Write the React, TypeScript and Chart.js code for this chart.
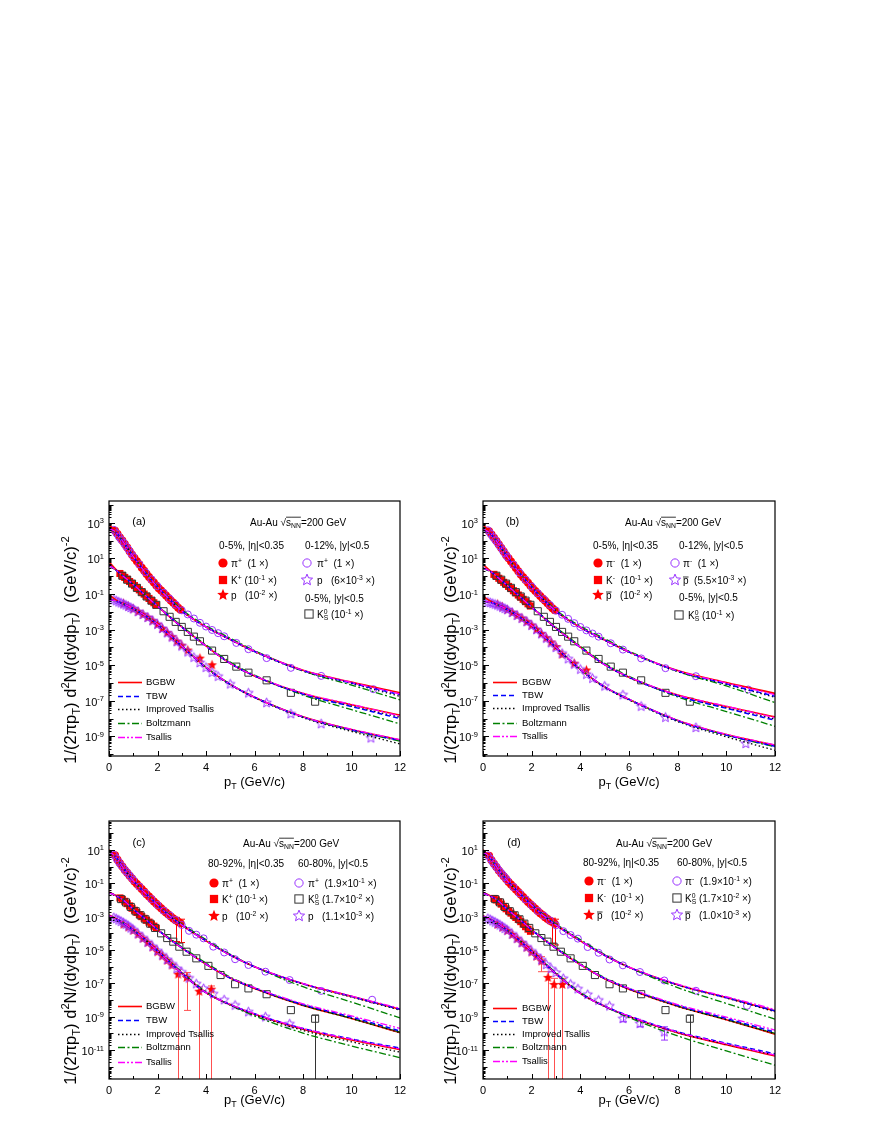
import React, { useEffect, useRef } from 'react';
import { Chart, registerables } from 'chart.js';
Chart.register(...registerables);

const FONT = "'Liberation Sans', Arial, Helvetica, sans-serif";
const RED = '#ff0000';
const PURPLE = '#9933ff';
const GREY = '#333333';

// ---------------- shared x grids ----------------
const fitX = [0, 0.3, 0.6, 1, 1.5, 2, 2.5, 3, 4, 5, 6, 8, 10, 12];
const xTickVals = [0, 2, 4, 6, 8, 10, 12];
const yTickExpAB = [3, 1, -1, -3, -5, -7, -9];
const yTickExpCD = [1, -1, -3, -5, -7, -9, -11];

const phenixPiX = [0.25, 0.35, 0.45, 0.55, 0.65, 0.75, 0.85, 0.95, 1.05, 1.15, 1.25, 1.35, 1.45, 1.55, 1.65, 1.75, 1.85, 1.95, 2.05, 2.15, 2.25, 2.35, 2.45, 2.55, 2.65, 2.75, 2.85, 2.95];
const phenixKX = [0.45, 0.55, 0.65, 0.75, 0.85, 0.95, 1.05, 1.15, 1.25, 1.35, 1.45, 1.55, 1.65, 1.75, 1.85, 1.95];
const abStarPiX = [0.2, 0.3, 0.4, 0.5, 0.6, 0.7, 0.8, 0.9, 1.0, 1.25, 1.5, 1.75, 2.0, 2.25, 2.5, 2.75, 3.0, 3.25, 3.5, 3.75, 4.0, 4.25, 4.5, 4.75, 5.25, 5.75, 6.5, 7.5, 8.75, 10.9];
const abK0sX = [0.55, 0.75, 0.95, 1.15, 1.35, 1.55, 1.75, 1.95, 2.25, 2.5, 2.75, 3.0, 3.25, 3.5, 3.75, 4.25, 4.75, 5.25, 5.75, 6.5, 7.5, 8.5];
const abPhenixPX = [0.6, 0.8, 1.0, 1.2, 1.4, 1.6, 1.8, 2.0, 2.2, 2.4, 2.6, 2.8, 3.0, 3.25, 3.75, 4.25];
const abStarPX = [0.2, 0.3, 0.4, 0.5, 0.6, 0.7, 0.8, 0.9, 1.0, 1.2, 1.4, 1.6, 1.8, 2.0, 2.2, 2.4, 2.6, 2.8, 3.0, 3.25, 3.5, 3.75, 4.0, 4.25, 4.5, 5.0, 5.75, 6.5, 7.5, 8.75, 10.8];
const cdStarPiX = [0.2, 0.3, 0.4, 0.5, 0.6, 0.7, 0.8, 0.9, 1.0, 1.25, 1.5, 1.75, 2.0, 2.25, 2.5, 2.75, 3.0, 3.3, 3.6, 3.9, 4.3, 4.75, 5.2, 5.75, 6.45, 7.45, 8.75, 10.85];
const cdK0sX = [0.5, 0.7, 0.9, 1.1, 1.3, 1.5, 1.7, 1.9, 2.15, 2.4, 2.65, 2.9, 3.2, 3.6, 4.1, 4.6, 5.2, 5.75, 6.5, 7.5, 8.5];
const cPhenixPX = [0.6, 0.8, 1.0, 1.2, 1.4, 1.6, 1.8, 2.0, 2.2, 2.4, 2.6, 2.85, 3.2, 3.72, 4.22];
const dPhenixPX = [0.6, 0.8, 1.0, 1.2, 1.4, 1.6, 1.8, 2.0, 2.2, 2.4, 2.67, 2.92, 3.26];
const cdStarPX = [0.2, 0.3, 0.4, 0.5, 0.6, 0.7, 0.8, 0.9, 1.0, 1.2, 1.4, 1.6, 1.8, 2.0, 2.2, 2.4, 2.6, 2.8, 3.0, 3.3, 3.6, 3.9, 4.3, 4.75, 5.2, 5.75, 6.45, 7.45];

// ---------------- panel (a) ----------------
const aPiBGBW = [7.9e2, 2.8e2, 79, 12.6, 1.58, 2.5e-1, 5.0e-2, 1.12e-2, 1.41e-3, 2.8e-4, 6.0e-5, 5.2e-6, 1.12e-6, 2.8e-7];
const aPiTBW = [5.0e2, 2.7e2, 79, 12.6, 1.58, 2.5e-1, 5.0e-2, 1.12e-2, 1.41e-3, 2.8e-4, 5.9e-5, 5.0e-6, 1.0e-6, 2.2e-7];
const aPiImpT = [4.8e2, 2.7e2, 79, 12.6, 1.58, 2.5e-1, 5.0e-2, 1.12e-2, 1.38e-3, 2.7e-4, 5.6e-5, 4.7e-6, 9.3e-7, 1.78e-7];
const aPiBoltz = [4.8e2, 2.6e2, 79, 13.2, 1.66, 2.7e-1, 5.6e-2, 1.32e-2, 1.66e-3, 3.3e-4, 6.6e-5, 4.7e-6, 7.6e-7, 1.12e-7];
const aPiTsallis = [5.0e2, 2.75e2, 79, 12.6, 1.58, 2.5e-1, 5.0e-2, 1.12e-2, 1.41e-3, 2.8e-4, 6.0e-5, 5.2e-6, 1.07e-6, 2.4e-7];
const aKBGBW = [6.3, 2.24, 0.95, 0.34, 8.3e-2, 2.1e-2, 5.2e-3, 1.41e-3, 1.2e-4, 1.26e-5, 2.5e-6, 2.6e-7, 6.0e-8, 1.58e-8];
const aKTBW = [4.0, 2.14, 0.95, 0.34, 8.3e-2, 2.1e-2, 5.2e-3, 1.38e-3, 1.17e-4, 1.26e-5, 2.5e-6, 2.4e-7, 4.8e-8, 1.0e-8];
const aKImpT = [3.8, 2.1, 0.95, 0.34, 8.3e-2, 2.1e-2, 5.2e-3, 1.38e-3, 1.17e-4, 1.26e-5, 2.45e-6, 2.4e-7, 5.0e-8, 1.2e-8];
const aKBoltz = [3.8, 2.1, 0.95, 0.35, 8.7e-2, 2.24e-2, 5.8e-3, 1.58e-3, 1.38e-4, 1.5e-5, 2.8e-6, 2.1e-7, 3.2e-8, 5.0e-9];
const aKTsallis = [4.0, 2.14, 0.95, 0.34, 8.3e-2, 2.1e-2, 5.2e-3, 1.41e-3, 1.2e-4, 1.26e-5, 2.6e-6, 2.7e-7, 6.3e-8, 1.41e-8];
const aPBGBW = [8.9e-2, 4.5e-2, 2.8e-2, 1.51e-2, 6.0e-3, 2.0e-3, 5.0e-4, 1.2e-4, 7.6e-6, 8.3e-7, 1.58e-7, 1.26e-8, 2.4e-9, 6.3e-10];
const aPTBW = [5.0e-2, 4.0e-2, 2.75e-2, 1.51e-2, 6.0e-3, 2.0e-3, 5.0e-4, 1.17e-4, 7.4e-6, 8.3e-7, 1.58e-7, 1.23e-8, 2.3e-9, 6.0e-10];
const aPImpT = [4.8e-2, 3.9e-2, 2.7e-2, 1.48e-2, 5.9e-3, 1.9e-3, 4.8e-4, 1.12e-4, 7.1e-6, 7.9e-7, 1.5e-7, 1.12e-8, 1.9e-9, 3.8e-10];
const aPBoltz = [5.0e-2, 4.0e-2, 2.75e-2, 1.51e-2, 6.0e-3, 2.0e-3, 5.0e-4, 1.2e-4, 7.6e-6, 8.7e-7, 1.62e-7, 1.23e-8, 2.24e-9, 5.4e-10];
const aPTsallis = [5.0e-2, 4.0e-2, 2.75e-2, 1.51e-2, 6.0e-3, 2.0e-3, 5.0e-4, 1.2e-4, 7.6e-6, 8.5e-7, 1.62e-7, 1.26e-8, 2.5e-9, 6.6e-10];
const aPhenixPiY = [3.5e2, 2.3e2, 1.5e2, 1.0e2, 63, 40, 25, 16, 10.5, 6.9, 4.6, 3.0, 2.0, 1.3, 0.91, 0.63, 0.44, 0.30, 0.21, 0.155, 0.112, 0.081, 0.059, 0.043, 0.032, 0.023, 0.017, 0.013];
const aStarPiY = [4.0e2, 2.6e2, 1.66e2, 1.12e2, 76, 48, 32, 20, 12.6, 4.6, 1.66, 0.66, 0.27, 0.117, 0.054, 0.025, 0.012, 7.1e-3, 4.2e-3, 2.4e-3, 1.48e-3, 9.5e-4, 6.3e-4, 4.2e-4, 1.78e-4, 7.9e-5, 2.5e-5, 7.1e-6, 2.5e-6, 4.5e-7];
const aPhenixKY = [1.41, 1.1, 0.85, 0.66, 0.5, 0.39, 0.295, 0.224, 0.17, 0.129, 0.098, 0.074, 0.056, 0.042, 0.032, 0.024];
const abK0sY = [1.05, 0.63, 0.38, 0.22, 0.126, 0.072, 0.042, 0.0245, 0.0107, 5.2e-3, 2.7e-3, 1.41e-3, 7.4e-4, 4.0e-4, 2.2e-4, 6.6e-5, 2.24e-5, 8.3e-6, 3.8e-6, 1.41e-6, 2.8e-7, 8.9e-8];
const aPhenixPY = [3.0e-2, 2.1e-2, 1.48e-2, 1.05e-2, 7.2e-3, 4.9e-3, 3.16e-3, 2.0e-3, 1.17e-3, 6.8e-4, 4.0e-4, 2.24e-4, 1.32e-4, 7.1e-5, 2.5e-5, 1.05e-5];
const aStarPY = [4.8e-2, 4.2e-2, 3.6e-2, 3.16e-2, 2.75e-2, 2.4e-2, 2.0e-2, 1.74e-2, 1.48e-2, 1.02e-2, 7.1e-3, 4.8e-3, 3.16e-3, 2.0e-3, 1.15e-3, 6.6e-4, 3.8e-4, 2.1e-4, 1.2e-4, 5.6e-5, 2.8e-5, 1.41e-5, 7.6e-6, 4.0e-6, 2.4e-6, 8.9e-7, 2.8e-7, 7.9e-8, 1.9e-8, 5.2e-9, 8.3e-10];

// ---------------- panel (b) ----------------
const bPiBGBW = [7.9e2, 2.7e2, 76, 12.0, 1.51, 2.4e-1, 4.7e-2, 1.05e-2, 1.32e-3, 2.6e-4, 5.6e-5, 5.0e-6, 1.05e-6, 2.6e-7];
const bPiTBW = [4.2e2, 2.5e2, 76, 12.0, 1.51, 2.4e-1, 4.7e-2, 1.05e-2, 1.32e-3, 2.6e-4, 5.5e-5, 4.7e-6, 8.9e-7, 1.78e-7];
const bPiImpT = [4.0e2, 2.5e2, 76, 12.0, 1.51, 2.4e-1, 4.7e-2, 1.05e-2, 1.29e-3, 2.5e-4, 5.2e-5, 4.4e-6, 8.3e-7, 1.58e-7];
const bPiBoltz = [4.0e2, 2.45e2, 76, 12.6, 1.58, 2.6e-1, 5.2e-2, 1.23e-2, 1.55e-3, 3.1e-4, 6.2e-5, 4.4e-6, 6.8e-7, 7.9e-8];
const bPiTsallis = [4.2e2, 2.6e2, 76, 12.0, 1.51, 2.4e-1, 4.7e-2, 1.05e-2, 1.32e-3, 2.6e-4, 5.6e-5, 4.9e-6, 1.0e-6, 2.24e-7];
const bKBGBW = [4.5, 2.0, 0.87, 0.3, 7.4e-2, 1.82e-2, 4.6e-3, 1.2e-3, 1.02e-4, 1.07e-5, 2.1e-6, 2.1e-7, 4.8e-8, 1.26e-8];
const bKTBW = [2.9, 1.86, 0.87, 0.3, 7.4e-2, 1.82e-2, 4.6e-3, 1.17e-3, 1.0e-4, 1.07e-5, 2.1e-6, 1.9e-7, 3.8e-8, 8.1e-9];
const bKImpT = [2.75, 1.82, 0.87, 0.3, 7.4e-2, 1.82e-2, 4.6e-3, 1.17e-3, 1.0e-4, 1.07e-5, 2.0e-6, 1.9e-7, 4.0e-8, 9.5e-9];
const bKBoltz = [2.75, 1.82, 0.87, 0.31, 7.8e-2, 1.95e-2, 5.0e-3, 1.35e-3, 1.17e-4, 1.26e-5, 2.4e-6, 1.66e-7, 2.5e-8, 3.7e-9];
const bKTsallis = [2.9, 1.86, 0.87, 0.3, 7.4e-2, 1.82e-2, 4.6e-3, 1.2e-3, 1.02e-4, 1.07e-5, 2.2e-6, 2.1e-7, 5.0e-8, 1.12e-8];
const bPBGBW = [7.6e-2, 4.0e-2, 2.5e-2, 1.35e-2, 5.2e-3, 1.7e-3, 4.2e-4, 1.0e-4, 5.9e-6, 6.0e-7, 1.2e-7, 7.9e-9, 1.26e-9, 3.16e-10];
const bPTBW = [3.8e-2, 3.5e-2, 2.45e-2, 1.35e-2, 5.2e-3, 1.7e-3, 4.2e-4, 9.8e-5, 5.8e-6, 6.0e-7, 1.2e-7, 7.6e-9, 1.2e-9, 2.8e-10];
const bPImpT = [3.6e-2, 3.4e-2, 2.4e-2, 1.32e-2, 5.1e-3, 1.62e-3, 4.0e-4, 9.3e-5, 5.5e-6, 5.6e-7, 1.1e-7, 6.8e-9, 9.5e-10, 1.66e-10];
const bPBoltz = [3.8e-2, 3.5e-2, 2.45e-2, 1.35e-2, 5.2e-3, 1.7e-3, 4.2e-4, 1.0e-4, 5.9e-6, 6.3e-7, 1.23e-7, 7.6e-9, 1.17e-9, 2.6e-10];
const bPTsallis = [3.8e-2, 3.5e-2, 2.45e-2, 1.35e-2, 5.2e-3, 1.7e-3, 4.2e-4, 1.0e-4, 5.9e-6, 6.2e-7, 1.23e-7, 8.1e-9, 1.32e-9, 3.3e-10];
const bPhenixPiY = [3.3e2, 2.2e2, 1.45e2, 95, 60, 38, 24, 15, 10, 6.6, 4.4, 2.9, 1.9, 1.25, 0.87, 0.6, 0.42, 0.29, 0.2, 0.148, 0.107, 0.078, 0.056, 0.041, 0.03, 0.022, 0.016, 0.012];
const bStarPiY = [3.8e2, 2.5e2, 1.6e2, 1.07e2, 72, 46, 30, 19, 12, 4.4, 1.58, 0.63, 0.26, 0.11, 0.051, 0.024, 0.0115, 6.8e-3, 4.0e-3, 2.3e-3, 1.4e-3, 9.0e-4, 6.0e-4, 4.0e-4, 1.7e-4, 7.5e-5, 2.4e-5, 6.8e-6, 2.4e-6, 4.3e-7];
const bPhenixKY = [1.26, 0.98, 0.76, 0.59, 0.45, 0.35, 0.265, 0.2, 0.152, 0.115, 0.087, 0.066, 0.05, 0.037, 0.028, 0.021];
const bPhenixPY = [2.7e-2, 1.9e-2, 1.32e-2, 9.3e-3, 6.4e-3, 4.4e-3, 2.8e-3, 1.78e-3, 1.05e-3, 6.0e-4, 3.5e-4, 2.0e-4, 1.12e-4, 4.1e-5, 1.29e-5, 5.4e-6];
const bStarPY = [3.6e-2, 3.3e-2, 3.0e-2, 2.7e-2, 2.4e-2, 2.1e-2, 1.8e-2, 1.55e-2, 1.32e-2, 9.1e-3, 6.3e-3, 4.3e-3, 2.8e-3, 1.74e-3, 1.0e-3, 5.8e-4, 3.3e-4, 1.82e-4, 1.0e-4, 4.7e-5, 2.3e-5, 1.15e-5, 6.0e-6, 3.1e-6, 1.86e-6, 6.8e-7, 2.2e-7, 5.0e-8, 1.2e-8, 3.2e-9, 4.0e-10];

// ---------------- panel (c) ----------------
const cPiBGBW = [10, 3.55, 0.79, 0.141, 2.5e-2, 5.0e-3, 1.12e-3, 3.16e-4, 3.55e-5, 5.0e-6, 1.0e-6, 9.5e-8, 1.66e-8, 2.8e-9];
const cPiTBW = [8.9, 3.4, 0.79, 0.141, 2.5e-2, 5.0e-3, 1.12e-3, 3.16e-4, 3.55e-5, 5.0e-6, 1.0e-6, 9.5e-8, 1.66e-8, 2.8e-9];
const cPiImpT = [7.9, 3.3, 0.79, 0.141, 2.5e-2, 5.0e-3, 1.12e-3, 3.16e-4, 3.55e-5, 5.0e-6, 9.8e-7, 9.1e-8, 1.51e-8, 2.5e-9];
const cPiBoltz = [8.3, 3.3, 0.79, 0.145, 2.6e-2, 5.4e-3, 1.26e-3, 3.6e-4, 4.2e-5, 5.6e-6, 1.0e-6, 6.3e-8, 7.6e-9, 8.5e-10];
const cPiTsallis = [8.9, 3.4, 0.79, 0.141, 2.5e-2, 5.0e-3, 1.12e-3, 3.16e-4, 3.55e-5, 5.0e-6, 1.0e-6, 9.8e-8, 1.74e-8, 3.16e-9];
const cKBGBW = [3.0e-2, 1.78e-2, 9.5e-3, 2.8e-3, 7.1e-4, 1.66e-4, 4.5e-5, 1.35e-5, 1.41e-6, 2.1e-7, 5.0e-8, 4.8e-9, 7.9e-10, 1.12e-10];
const cKTBW = [2.8e-2, 1.74e-2, 9.5e-3, 2.8e-3, 7.1e-4, 1.66e-4, 4.5e-5, 1.35e-5, 1.41e-6, 2.1e-7, 5.2e-8, 5.4e-9, 9.5e-10, 1.41e-10];
const cKImpT = [2.5e-2, 1.66e-2, 9.3e-3, 2.8e-3, 7.1e-4, 1.66e-4, 4.5e-5, 1.35e-5, 1.41e-6, 2.1e-7, 5.0e-8, 4.8e-9, 7.9e-10, 1.12e-10];
const cKBoltz = [2.8e-2, 1.74e-2, 9.5e-3, 2.9e-3, 7.4e-4, 1.78e-4, 5.0e-5, 1.58e-5, 1.66e-6, 2.4e-7, 5.5e-8, 5.0e-9, 7.9e-10, 1.2e-10];
const cKTsallis = [2.8e-2, 1.74e-2, 9.5e-3, 2.8e-3, 7.1e-4, 1.66e-4, 4.5e-5, 1.35e-5, 1.41e-6, 2.2e-7, 5.6e-8, 6.0e-9, 1.12e-9, 2.0e-10];
const cPBGBW = [1.26e-3, 7.6e-4, 4.2e-4, 1.58e-4, 4.0e-5, 8.9e-6, 1.9e-6, 4.2e-7, 2.8e-8, 5.2e-9, 1.41e-9, 1.78e-10, 4.0e-11, 1.05e-11];
const cPTBW = [1.12e-3, 7.2e-4, 4.1e-4, 1.58e-4, 4.0e-5, 8.9e-6, 1.9e-6, 4.2e-7, 2.8e-8, 5.4e-9, 1.51e-9, 2.0e-10, 4.7e-11, 1.32e-11];
const cPImpT = [6.3e-4, 5.6e-4, 3.8e-4, 1.55e-4, 4.0e-5, 8.9e-6, 1.9e-6, 4.2e-7, 2.75e-8, 5.0e-9, 1.32e-9, 1.51e-10, 3.16e-11, 7.6e-12];
const cPBoltz = [1.12e-3, 7.2e-4, 4.1e-4, 1.58e-4, 4.1e-5, 9.3e-6, 2.1e-6, 4.7e-7, 3.16e-8, 5.0e-9, 1.12e-9, 1.05e-10, 1.78e-11, 3.55e-12];
const cPTsallis = [1.12e-3, 7.2e-4, 4.1e-4, 1.58e-4, 4.0e-5, 8.9e-6, 1.9e-6, 4.2e-7, 2.8e-8, 5.4e-9, 1.51e-9, 2.0e-10, 4.5e-11, 1.2e-11];
const cPhenixPiY = [4.8, 2.6, 1.58, 1.0, 0.63, 0.42, 0.28, 0.19, 0.129, 0.089, 0.063, 0.045, 0.032, 0.022, 0.0158, 0.0112, 8.1e-3, 5.9e-3, 4.3e-3, 3.2e-3, 2.3e-3, 1.74e-3, 1.32e-3, 1.0e-3, 7.6e-4, 6.0e-4, 5.0e-4, 4.0e-4];
const cStarPiY = [5.0, 3.16, 1.9, 1.2, 0.79, 0.52, 0.355, 0.24, 0.158, 0.063, 0.026, 0.0112, 5.0e-3, 2.3e-3, 1.2e-3, 6.3e-4, 3.16e-4, 1.41e-4, 8.3e-5, 5.0e-5, 1.58e-5, 7.1e-6, 2.8e-6, 1.26e-6, 5.0e-7, 1.58e-7, 3.55e-8, 1.05e-8];
const cPhenixKY = [1.32e-2, 1.07e-2, 8.3e-3, 6.0e-3, 4.4e-3, 3.16e-3, 2.4e-3, 1.78e-3, 1.32e-3, 1.0e-3, 7.9e-4, 6.0e-4, 4.7e-4, 3.55e-4, 2.7e-4, 2.0e-4];
const cdK0sY = [1.12e-2, 7.1e-3, 3.8e-3, 2.1e-3, 1.2e-3, 6.9e-4, 3.8e-4, 2.1e-4, 1.0e-4, 5.2e-5, 3.16e-5, 1.58e-5, 7.9e-6, 3.16e-6, 1.12e-6, 3.16e-7, 8.9e-8, 5.0e-8, 2.24e-8, 2.5e-9, 7.6e-10];
const cPhenixPY = [3.55e-4, 2.4e-4, 1.51e-4, 8.9e-5, 5.0e-5, 2.8e-5, 1.51e-5, 7.9e-6, 4.5e-6, 2.4e-6, 1.26e-6, 3.6e-7, 2.3e-7, 3.4e-8, 4.5e-8];
const cStarPY = [8.9e-4, 7.6e-4, 6.3e-4, 5.2e-4, 4.3e-4, 3.5e-4, 2.75e-4, 2.1e-4, 1.66e-4, 9.5e-5, 5.4e-5, 3.0e-5, 1.66e-5, 9.1e-6, 5.0e-6, 2.7e-6, 1.45e-6, 7.9e-7, 4.8e-7, 2.1e-7, 9.5e-8, 5.0e-8, 2.4e-8, 1.05e-8, 5.0e-9, 2.0e-9, 1.0e-9, 3.8e-10];
// error bars (c)
const cPiErrX = [2.75, 2.95];
const cPiErrLo = [3.2e-5, 2.8e-5];
const cPiErrHi = [9e-4, 7e-4];
const cPErrX = [2.85, 3.2, 3.72, 4.22];
const cPErrLo = [1e-14, 2.4e-9, 1e-14, 1e-14];
const cPErrHi = [7e-7, 4.5e-7, 6e-8, 7e-8];
const cdK0sErrX = [8.5];
const cdK0sErrLo = [1e-14];
const cdK0sErrHi = [1.26e-9];

// ---------------- panel (d) ----------------
const dPiBGBW = [10, 3.55, 0.79, 0.141, 2.5e-2, 5.0e-3, 1.12e-3, 3.16e-4, 3.55e-5, 4.8e-6, 9.3e-7, 8.3e-8, 1.41e-8, 2.24e-9];
const dPiTBW = [7.9, 3.3, 0.79, 0.141, 2.5e-2, 5.0e-3, 1.12e-3, 3.16e-4, 3.55e-5, 4.8e-6, 9.3e-7, 8.3e-8, 1.41e-8, 2.24e-9];
const dPiImpT = [7.1, 3.16, 0.79, 0.141, 2.5e-2, 5.0e-3, 1.12e-3, 3.16e-4, 3.55e-5, 4.8e-6, 9.1e-7, 7.9e-8, 1.32e-8, 2.0e-9];
const dPiBoltz = [7.6, 3.16, 0.79, 0.145, 2.6e-2, 5.4e-3, 1.26e-3, 3.6e-4, 4.2e-5, 5.4e-6, 9.3e-7, 5.6e-8, 6.3e-9, 7.2e-10];
const dPiTsallis = [7.9, 3.3, 0.79, 0.141, 2.5e-2, 5.0e-3, 1.12e-3, 3.16e-4, 3.55e-5, 4.8e-6, 9.5e-7, 8.9e-8, 1.58e-8, 2.75e-9];
const dKBGBW = [2.8e-2, 1.74e-2, 9.3e-3, 2.75e-3, 6.9e-4, 1.58e-4, 4.3e-5, 1.26e-5, 1.32e-6, 1.9e-7, 4.5e-8, 4.2e-9, 6.6e-10, 9.1e-11];
const dKTBW = [2.6e-2, 1.7e-2, 9.3e-3, 2.75e-3, 6.9e-4, 1.58e-4, 4.3e-5, 1.26e-5, 1.32e-6, 2.0e-7, 4.8e-8, 4.8e-9, 7.9e-10, 1.2e-10];
const dKImpT = [2.4e-2, 1.62e-2, 9.1e-3, 2.75e-3, 6.9e-4, 1.58e-4, 4.3e-5, 1.26e-5, 1.32e-6, 1.9e-7, 4.5e-8, 4.2e-9, 6.6e-10, 9.5e-11];
const dKBoltz = [2.6e-2, 1.7e-2, 9.3e-3, 2.8e-3, 7.2e-4, 1.7e-4, 4.8e-5, 1.48e-5, 1.55e-6, 2.2e-7, 5.0e-8, 4.5e-9, 6.9e-10, 1.0e-10];
const dKTsallis = [2.6e-2, 1.7e-2, 9.3e-3, 2.75e-3, 6.9e-4, 1.58e-4, 4.3e-5, 1.26e-5, 1.32e-6, 2.0e-7, 5.1e-8, 5.4e-9, 9.5e-10, 1.58e-10];
const dPBGBW = [1.12e-3, 7.1e-4, 4.0e-4, 1.51e-4, 3.8e-5, 8.3e-6, 1.74e-6, 3.8e-7, 2.5e-8, 4.2e-9, 1.05e-9, 1.12e-10, 2.1e-11, 4.5e-12];
const dPTBW = [1.05e-3, 6.9e-4, 3.9e-4, 1.51e-4, 3.8e-5, 8.3e-6, 1.74e-6, 3.8e-7, 2.5e-8, 4.3e-9, 1.12e-9, 1.26e-10, 2.6e-11, 6.0e-12];
const dPImpT = [4.0e-4, 4.5e-4, 3.5e-4, 1.45e-4, 3.7e-5, 8.3e-6, 1.74e-6, 3.8e-7, 2.45e-8, 4.1e-9, 1.02e-9, 1.12e-10, 2.24e-11, 5.0e-12];
const dPBoltz = [1.05e-3, 6.9e-4, 3.9e-4, 1.51e-4, 3.9e-5, 8.7e-6, 1.9e-6, 4.3e-7, 2.8e-8, 4.2e-9, 8.9e-10, 7.1e-11, 8.9e-12, 1.26e-12];
const dPTsallis = [1.05e-3, 6.9e-4, 3.9e-4, 1.51e-4, 3.8e-5, 8.3e-6, 1.74e-6, 3.8e-7, 2.5e-8, 4.3e-9, 1.1e-9, 1.2e-10, 2.4e-11, 5.0e-12];
const dPhenixPiY = [4.5, 2.4, 1.48, 0.93, 0.59, 0.39, 0.26, 0.178, 0.12, 0.083, 0.059, 0.042, 0.03, 0.021, 0.0148, 0.0105, 7.6e-3, 5.5e-3, 4.0e-3, 3.0e-3, 2.2e-3, 1.62e-3, 1.23e-3, 9.3e-4, 7.1e-4, 5.6e-4, 4.7e-4, 3.7e-4];
const dStarPiY = [4.6, 3.0, 1.8, 1.15, 0.76, 0.5, 0.34, 0.23, 0.15, 0.06, 0.025, 0.0107, 4.8e-3, 2.2e-3, 1.15e-3, 6.0e-4, 3.0e-4, 1.35e-4, 7.9e-5, 4.8e-5, 1.5e-5, 6.8e-6, 2.7e-6, 1.2e-6, 4.8e-7, 1.5e-7, 3.6e-8, 4.5e-9];
const dPhenixKY = [1.23e-2, 1.0e-2, 7.8e-3, 5.6e-3, 4.1e-3, 2.95e-3, 2.2e-3, 1.62e-3, 1.2e-3, 8.9e-4, 6.8e-4, 5.0e-4, 3.55e-4, 2.5e-4, 1.78e-4, 1.32e-4];
const dPhenixPY = [3.4e-4, 2.3e-4, 1.45e-4, 8.5e-5, 4.8e-5, 2.7e-5, 1.45e-5, 7.6e-6, 4.2e-6, 2.2e-6, 2.3e-7, 8.7e-8, 8.7e-8];
const dStarPY = [7.9e-4, 6.8e-4, 5.6e-4, 4.7e-4, 3.9e-4, 3.2e-4, 2.5e-4, 2.0e-4, 1.55e-4, 9.1e-5, 5.1e-5, 2.8e-5, 1.55e-5, 8.7e-6, 4.7e-6, 2.6e-6, 1.38e-6, 7.6e-7, 4.5e-7, 2.0e-7, 9.1e-8, 4.8e-8, 2.2e-8, 1.0e-8, 4.5e-9, 7.9e-10, 4.0e-10, 1.26e-10];
// error bars (d)
const dPiErrX = [2.85, 2.95];
const dPiErrLo = [2.5e-5, 2.0e-5];
const dPiErrHi = [8e-4, 7e-4];
const dPErrX = [2.4, 2.67, 2.92, 3.26];
const dPErrLo = [5e-7, 1e-14, 1e-14, 1e-14];
const dPErrHi = [4e-6, 5e-7, 2e-7, 2e-7];
const dStarPErrX = [5.75, 6.45, 7.45];
const dStarPErrLo = [5e-10, 2.5e-10, 4e-11];
const dStarPErrHi = [1.3e-9, 6e-10, 2.5e-10];

// ---------------- styles ----------------
const FIT_STYLES = [
  { name: 'BGBW', color: '#ff0000', width: 1.6, dash: [] as number[] },
  { name: 'TBW', color: '#0000ff', width: 1.5, dash: [5, 3] },
  { name: 'Improved Tsallis', color: '#000000', width: 1.3, dash: [1.5, 2.5] },
  { name: 'Boltzmann', color: '#008000', width: 1.3, dash: [7, 2.5, 2, 2.5] },
  { name: 'Tsallis', color: '#ff00ff', width: 1.3, dash: [7, 2, 2, 2, 2, 2] },
];

type Kind = 'fc' | 'fs' | 'fst' | 'oc' | 'ost' | 'os';
type Seg = { t: string; k?: 'sup' | 'sub'; ol?: number; na?: boolean };
const S = (t: string): Seg => ({ t });
const SUP = (t: string): Seg => ({ t, k: 'sup' });
const SUB = (t: string): Seg => ({ t, k: 'sub' });
const PBAR: Seg = { t: 'p', ol: 0.66 };
const K0S: Seg[] = [S('K'), { t: '0', k: 'sup', na: true }, SUB('S')];

function starPath(ctx: CanvasRenderingContext2D, cx: number, cy: number, R: number) {
  const r = R * 0.45;
  ctx.beginPath();
  for (let i = 0; i < 10; i++) {
    const a = -Math.PI / 2 + (i * Math.PI) / 5;
    const rr = i % 2 === 0 ? R : r;
    const px = cx + rr * Math.cos(a);
    const py = cy + rr * Math.sin(a);
    if (i === 0) ctx.moveTo(px, py); else ctx.lineTo(px, py);
  }
  ctx.closePath();
}

function drawMarker(ctx: CanvasRenderingContext2D, kind: Kind, x: number, y: number, scale = 1) {
  ctx.save();
  ctx.lineWidth = 1;
  if (kind === 'fc') { ctx.fillStyle = RED; ctx.beginPath(); ctx.arc(x, y, 3.9 * scale, 0, Math.PI * 2); ctx.fill(); }
  if (kind === 'fs') { const h = 3.5 * scale; ctx.fillStyle = RED; ctx.fillRect(x - h, y - h, 2 * h, 2 * h); }
  if (kind === 'fst') { ctx.fillStyle = RED; starPath(ctx, x, y, 5.2 * scale); ctx.fill(); }
  if (kind === 'oc') { ctx.strokeStyle = PURPLE; ctx.beginPath(); ctx.arc(x, y, 3.5 * scale, 0, Math.PI * 2); ctx.stroke(); }
  if (kind === 'ost') { ctx.strokeStyle = PURPLE; starPath(ctx, x, y, 5 * scale); ctx.stroke(); }
  if (kind === 'os') { const h = 3.5 * scale; ctx.strokeStyle = GREY; ctx.strokeRect(x - h, y - h, 2 * h, 2 * h); }
  ctx.restore();
}

function drawRich(ctx: CanvasRenderingContext2D, segs: Seg[], x: number, y: number, size: number, align: 'left' | 'center' | 'right' = 'left') {
  const small = size * 0.68;
  ctx.save();
  ctx.textBaseline = 'alphabetic';
  ctx.textAlign = 'left';
  ctx.fillStyle = '#000';
  const widths = segs.map((s) => { ctx.font = `${s.k ? small : size}px ${FONT}`; return ctx.measureText(s.t).width; });
  let total = 0;
  segs.forEach((s, i) => { if (!s.na) total += widths[i]; });
  let cx = align === 'left' ? x : align === 'center' ? x - total / 2 : x - total;
  const base = y + size * 0.36;
  segs.forEach((s, i) => {
    ctx.font = `${s.k ? small : size}px ${FONT}`;
    const dy = s.k === 'sup' ? -size * 0.4 : s.k === 'sub' ? size * 0.24 : 0;
    ctx.fillText(s.t, cx, base + dy);
    if (s.ol) {
      ctx.strokeStyle = '#000';
      ctx.lineWidth = 0.8;
      const oy = base - s.ol * size;
      ctx.beginPath(); ctx.moveTo(cx, oy); ctx.lineTo(cx + widths[i], oy); ctx.stroke();
    }
    if (!s.na) cx += widths[i];
  });
  ctx.restore();
}

type SeriesDef = { x: number[]; y: number[]; kind: Kind; label: string };
type ErrDef = { x: number[]; lo: number[]; hi: number[]; color: string };
type Row = { kind: Kind | null; segs: Seg[]; y: number; sx?: number; tx?: number };
type PanelCfg = {
  id: string;
  canvas: { left: number; top: number; w: number; h: number };
  area: { l: number; r: number; t: number; b: number };
  yMin: number; yMax: number; yLabels: number[];
  groups: number[][][];
  series: SeriesDef[];
  errors: ErrDef[];
  tag: { text: string; x: number; y: number };
  title: { x: number; y: number };
  heads: { segs: Seg[]; x: number; y: number }[];
  left: { sx: number; tx: number; rows: Row[] };
  right: { sx: number; tx: number; rows: Row[] };
  fitRows: number[]; fitX0: number; fitX1: number; fitTx: number;
  yTitle: { x: number; y: number };
  xTitleDy: number;
};

const TITLE_SEGS: Seg[] = [S('Au-Au '), S('√'), { t: 's', ol: 0.84 }, { t: 'NN', k: 'sub', ol: 0.84 }, S('=200 GeV')];
const Y_TITLE: Seg[] = [S('1/(2πp'), SUB('T'), S(') d'), SUP('2'), S('N/(dydp'), SUB('T'), S(')  (GeV/c)'), SUP('-2')];
const X_TITLE: Seg[] = [S('p'), SUB('T'), S(' (GeV/c)')];

const panels: PanelCfg[] = [
  {
    id: 'a', canvas: { left: 0, top: 480, w: 436, h: 320 }, area: { l: 109, r: 400, t: 501, b: 756 },
    yMin: Math.pow(10, -10.1), yMax: Math.pow(10, 4.22), yLabels: yTickExpAB,
    groups: [[aPiBGBW, aPiTBW, aPiImpT, aPiBoltz, aPiTsallis], [aKBGBW, aKTBW, aKImpT, aKBoltz, aKTsallis], [aPBGBW, aPTBW, aPImpT, aPBoltz, aPTsallis]],
    series: [
      { x: phenixPiX, y: aPhenixPiY, kind: 'fc', label: 'π+ (1×)' },
      { x: phenixKX, y: aPhenixKY, kind: 'fs', label: 'K+ (10^-1×)' },
      { x: abPhenixPX, y: aPhenixPY, kind: 'fst', label: 'p (10^-2×)' },
      { x: abStarPiX, y: aStarPiY, kind: 'oc', label: 'π+ STAR (1×)' },
      { x: abStarPX, y: aStarPY, kind: 'ost', label: 'p STAR (6×10^-3×)' },
      { x: abK0sX, y: abK0sY, kind: 'os', label: 'K0S (10^-1×)' },
    ],
    errors: [],
    tag: { text: '(a)', x: 30, y: 20 }, title: { x: 141, y: 21 },
    heads: [{ segs: [S('0-5%, |η|<0.35')], x: 110, y: 44 }, { segs: [S('0-12%, |y|<0.5')], x: 196, y: 44 }, { segs: [S('0-5%, |y|<0.5')], x: 196, y: 97 }],
    left: { sx: 114, tx: 122, rows: [
      { kind: 'fc', segs: [S('π'), SUP('+'), S('  (1 ×)')], y: 62 },
      { kind: 'fs', segs: [S('K'), SUP('+'), S(' (10'), SUP('-1'), S(' ×)')], y: 79 },
      { kind: 'fst', segs: [S('p   (10'), SUP('-2'), S(' ×)')], y: 94 },
    ] },
    right: { sx: 198, tx: 208, rows: [
      { kind: 'oc', segs: [S('π'), SUP('+'), S('  (1 ×)')], y: 62 },
      { kind: 'ost', segs: [S('p   (6×10'), SUP('-3'), S(' ×)')], y: 79 },
      { kind: 'os', segs: [...K0S, S(' (10'), SUP('-1'), S(' ×)')], y: 113, sx: 200 },
    ] },
    fitRows: [181, 195, 208, 222, 236], fitX0: 9, fitX1: 33, fitTx: 37,
    yTitle: { x: -39, y: 149 }, xTitleDy: 25,
  },
  {
    id: 'b', canvas: { left: 436, top: 480, w: 436, h: 320 }, area: { l: 483, r: 775, t: 501, b: 756 },
    yMin: Math.pow(10, -10.1), yMax: Math.pow(10, 4.22), yLabels: yTickExpAB,
    groups: [[bPiBGBW, bPiTBW, bPiImpT, bPiBoltz, bPiTsallis], [bKBGBW, bKTBW, bKImpT, bKBoltz, bKTsallis], [bPBGBW, bPTBW, bPImpT, bPBoltz, bPTsallis]],
    series: [
      { x: phenixPiX, y: bPhenixPiY, kind: 'fc', label: 'π- (1×)' },
      { x: phenixKX, y: bPhenixKY, kind: 'fs', label: 'K- (10^-1×)' },
      { x: abPhenixPX, y: bPhenixPY, kind: 'fst', label: 'pbar (10^-2×)' },
      { x: abStarPiX, y: bStarPiY, kind: 'oc', label: 'π- STAR (1×)' },
      { x: abStarPX, y: bStarPY, kind: 'ost', label: 'pbar STAR (5.5×10^-3×)' },
      { x: abK0sX, y: abK0sY, kind: 'os', label: 'K0S (10^-1×)' },
    ],
    errors: [],
    tag: { text: '(b)', x: 29.5, y: 20 }, title: { x: 142, y: 21 },
    heads: [{ segs: [S('0-5%, |η|<0.35')], x: 110, y: 44 }, { segs: [S('0-12%, |y|<0.5')], x: 196, y: 44 }, { segs: [S('0-5%, |y|<0.5')], x: 196, y: 96 }],
    left: { sx: 115, tx: 123, rows: [
      { kind: 'fc', segs: [S('π'), SUP('-'), S('  (1 ×)')], y: 62 },
      { kind: 'fs', segs: [S('K'), SUP('-'), S('  (10'), SUP('-1'), S(' ×)')], y: 79 },
      { kind: 'fst', segs: [PBAR, S('   (10'), SUP('-2'), S(' ×)')], y: 94 },
    ] },
    right: { sx: 192, tx: 200, rows: [
      { kind: 'oc', segs: [S('π'), SUP('-'), S('  (1 ×)')], y: 62 },
      { kind: 'ost', segs: [PBAR, S('  (5.5×10'), SUP('-3'), S(' ×)')], y: 79 },
      { kind: 'os', segs: [...K0S, S(' (10'), SUP('-1'), S(' ×)')], y: 114, sx: 196, tx: 205 },
    ] },
    fitRows: [181, 194, 207, 222, 235], fitX0: 10, fitX1: 34, fitTx: 39,
    yTitle: { x: -33, y: 149 }, xTitleDy: 25,
  },
  {
    id: 'c', canvas: { left: 0, top: 800, w: 436, h: 328 }, area: { l: 109, r: 400, t: 821, b: 1079 },
    yMin: Math.pow(10, -12.73), yMax: Math.pow(10, 2.73), yLabels: yTickExpCD,
    groups: [[cPiBGBW, cPiTBW, cPiImpT, cPiBoltz, cPiTsallis], [cKBGBW, cKTBW, cKImpT, cKBoltz, cKTsallis], [cPBGBW, cPTBW, cPImpT, cPBoltz, cPTsallis]],
    series: [
      { x: phenixPiX, y: cPhenixPiY, kind: 'fc', label: 'π+ (1×)' },
      { x: phenixKX, y: cPhenixKY, kind: 'fs', label: 'K+ (10^-1×)' },
      { x: cPhenixPX, y: cPhenixPY, kind: 'fst', label: 'p (10^-2×)' },
      { x: cdStarPiX, y: cStarPiY, kind: 'oc', label: 'π+ STAR (1.9×10^-1×)' },
      { x: cdK0sX, y: cdK0sY, kind: 'os', label: 'K0S (1.7×10^-2×)' },
      { x: cdStarPX, y: cStarPY, kind: 'ost', label: 'p STAR (1.1×10^-3×)' },
    ],
    errors: [
      { x: cPiErrX, lo: cPiErrLo, hi: cPiErrHi, color: RED },
      { x: cPErrX, lo: cPErrLo, hi: cPErrHi, color: '#ff5050' },
      { x: cdK0sErrX, lo: cdK0sErrLo, hi: cdK0sErrHi, color: GREY },
    ],
    tag: { text: '(c)', x: 30, y: 21 }, title: { x: 134, y: 22 },
    heads: [{ segs: [S('80-92%, |η|<0.35')], x: 99, y: 42 }, { segs: [S('60-80%, |y|<0.5')], x: 189, y: 42 }],
    left: { sx: 105, tx: 113, rows: [
      { kind: 'fc', segs: [S('π'), SUP('+'), S('  (1 ×)')], y: 62 },
      { kind: 'fs', segs: [S('K'), SUP('+'), S(' (10'), SUP('-1'), S(' ×)')], y: 78 },
      { kind: 'fst', segs: [S('p   (10'), SUP('-2'), S(' ×)')], y: 95 },
    ] },
    right: { sx: 190, tx: 199, rows: [
      { kind: 'oc', segs: [S('π'), SUP('+'), S('  (1.9×10'), SUP('-1'), S(' ×)')], y: 62 },
      { kind: 'os', segs: [...K0S, S(' (1.7×10'), SUP('-2'), S(' ×)')], y: 78 },
      { kind: 'ost', segs: [S('p   (1.1×10'), SUP('-3'), S(' ×)')], y: 95 },
    ] },
    fitRows: [185, 199, 213, 226, 241], fitX0: 9, fitX1: 33, fitTx: 37,
    yTitle: { x: -39, y: 150 }, xTitleDy: 20,
  },
  {
    id: 'd', canvas: { left: 436, top: 800, w: 436, h: 328 }, area: { l: 483, r: 775, t: 821, b: 1079 },
    yMin: Math.pow(10, -12.73), yMax: Math.pow(10, 2.73), yLabels: yTickExpCD,
    groups: [[dPiBGBW, dPiTBW, dPiImpT, dPiBoltz, dPiTsallis], [dKBGBW, dKTBW, dKImpT, dKBoltz, dKTsallis], [dPBGBW, dPTBW, dPImpT, dPBoltz, dPTsallis]],
    series: [
      { x: phenixPiX, y: dPhenixPiY, kind: 'fc', label: 'π- (1×)' },
      { x: phenixKX, y: dPhenixKY, kind: 'fs', label: 'K- (10^-1×)' },
      { x: dPhenixPX, y: dPhenixPY, kind: 'fst', label: 'pbar (10^-2×)' },
      { x: cdStarPiX, y: dStarPiY, kind: 'oc', label: 'π- STAR (1.9×10^-1×)' },
      { x: cdK0sX, y: cdK0sY, kind: 'os', label: 'K0S (1.7×10^-2×)' },
      { x: cdStarPX, y: dStarPY, kind: 'ost', label: 'pbar STAR (1.0×10^-3×)' },
    ],
    errors: [
      { x: dPiErrX, lo: dPiErrLo, hi: dPiErrHi, color: RED },
      { x: dPErrX, lo: dPErrLo, hi: dPErrHi, color: '#ff5050' },
      { x: dStarPErrX, lo: dStarPErrLo, hi: dStarPErrHi, color: PURPLE },
      { x: cdK0sErrX, lo: cdK0sErrLo, hi: cdK0sErrHi, color: GREY },
    ],
    tag: { text: '(d)', x: 31, y: 21 }, title: { x: 133, y: 22 },
    heads: [{ segs: [S('80-92%, |η|<0.35')], x: 100, y: 41 }, { segs: [S('60-80%, |y|<0.5')], x: 194, y: 41 }],
    left: { sx: 106, tx: 114, rows: [
      { kind: 'fc', segs: [S('π'), SUP('-'), S('  (1 ×)')], y: 60 },
      { kind: 'fs', segs: [S('K'), SUP('-'), S('  (10'), SUP('-1'), S(' ×)')], y: 77 },
      { kind: 'fst', segs: [PBAR, S('   (10'), SUP('-2'), S(' ×)')], y: 94 },
    ] },
    right: { sx: 194, tx: 202, rows: [
      { kind: 'oc', segs: [S('π'), SUP('-'), S('  (1.9×10'), SUP('-1'), S(' ×)')], y: 60 },
      { kind: 'os', segs: [...K0S, S(' (1.7×10'), SUP('-2'), S(' ×)')], y: 77 },
      { kind: 'ost', segs: [PBAR, S('   (1.0×10'), SUP('-3'), S(' ×)')], y: 94 },
    ] },
    fitRows: [187, 200, 213, 226, 240], fitX0: 10, fitX1: 34, fitTx: 39,
    yTitle: { x: -33, y: 150 }, xTitleDy: 20,
  },
];

function makeStarImage(filled: boolean): HTMLCanvasElement {
  const c = document.createElement('canvas');
  c.width = 13; c.height = 13;
  const ctx = c.getContext('2d')!;
  drawMarker(ctx, filled ? 'fst' : 'ost', 6.5, 6.8);
  return c;
}

function buildDatasets(cfg: PanelCfg, stars: { f: HTMLCanvasElement; o: HTMLCanvasElement }) {
  const ds: any[] = [];
  const drawOrder = [4, 1, 2, 3, 0]; // Tsallis on top, BGBW lowest
  cfg.groups.forEach((g, gi) => {
    drawOrder.forEach((fi) => {
      const st = FIT_STYLES[fi];
      ds.push({
        label: `${st.name} ${gi}`,
        data: fitX.map((x, i) => ({ x, y: g[fi][i] })),
        showLine: true, borderColor: st.color, borderWidth: st.width, borderDash: st.dash,
        pointRadius: 0, pointHoverRadius: 0, fill: false, cubicInterpolationMode: 'monotone', order: 0,
      });
    });
  });
  cfg.series.forEach((s) => {
    const base: any = { label: s.label, data: s.x.map((x, i) => ({ x, y: s.y[i] })), showLine: false, pointHoverRadius: 0 };
    if (s.kind === 'fc') Object.assign(base, { pointStyle: 'circle', pointRadius: 4, pointBackgroundColor: RED, pointBorderColor: RED, pointBorderWidth: 0, order: 2 });
    if (s.kind === 'fs') Object.assign(base, { pointStyle: 'rect', pointRadius: 5, pointBackgroundColor: RED, pointBorderColor: RED, pointBorderWidth: 0, order: 2 });
    if (s.kind === 'fst') Object.assign(base, { pointStyle: stars.f, pointRadius: 5, order: 2 });
    if (s.kind === 'oc') Object.assign(base, { pointStyle: 'circle', pointRadius: 3.5, pointBackgroundColor: 'rgba(0,0,0,0)', pointBorderColor: PURPLE, pointBorderWidth: 1, order: 1 });
    if (s.kind === 'os') Object.assign(base, { pointStyle: 'rect', pointRadius: 5, pointBackgroundColor: 'rgba(0,0,0,0)', pointBorderColor: GREY, pointBorderWidth: 1, order: 1 });
    if (s.kind === 'ost') Object.assign(base, { pointStyle: stars.o, pointRadius: 5, order: 1 });
    ds.push(base);
  });
  return ds;
}

function decorPlugin(cfg: PanelCfg) {
  return {
    id: 'decor_' + cfg.id,
    beforeDatasetsDraw(chart: any) {
      const { ctx, chartArea: a } = chart;
      const xs = chart.scales.x, ys = chart.scales.y;
      ctx.save();
      ctx.beginPath(); ctx.rect(a.left, a.top, a.right - a.left, a.bottom - a.top); ctx.clip();
      cfg.errors.forEach((e) => {
        ctx.strokeStyle = e.color; ctx.lineWidth = 1;
        e.x.forEach((xv, i) => {
          const px = Math.round(xs.getPixelForValue(xv)) + 0.5;
          const p1 = ys.getPixelForValue(e.lo[i]);
          const p2 = ys.getPixelForValue(e.hi[i]);
          ctx.beginPath(); ctx.moveTo(px, p1); ctx.lineTo(px, p2); ctx.stroke();
          [p1, p2].forEach((p) => { if (p > a.top && p < a.bottom) { ctx.beginPath(); ctx.moveTo(px - 3.5, p); ctx.lineTo(px + 3.5, p); ctx.stroke(); } });
        });
      });
      ctx.restore();
    },
    afterDatasetsDraw(chart: any) {
      const { ctx, chartArea: a } = chart;
      const xs = chart.scales.x, ys = chart.scales.y;
      ctx.save();
      ctx.strokeStyle = '#000';
      ctx.lineWidth = 1;
      const eMin = Math.floor(Math.log10(cfg.yMin));
      const eMax = Math.ceil(Math.log10(cfg.yMax));
      for (let e = eMin; e <= eMax; e++) {
        for (let m = 1; m <= 9; m++) {
          const v = m * Math.pow(10, e);
          if (v < cfg.yMin || v > cfg.yMax) continue;
          const py = Math.round(ys.getPixelForValue(v)) + 0.5;
          const len = m === 1 ? (cfg.yLabels.includes(e) ? 6 : 4.5) : 2.5;
          ctx.beginPath(); ctx.moveTo(a.left, py); ctx.lineTo(a.left + len, py); ctx.stroke();
        }
      }
      for (let v = 0; v <= 12; v++) {
        const px = Math.round(xs.getPixelForValue(v)) + 0.5;
        const len = xTickVals.includes(v) ? 5 : 3;
        ctx.beginPath(); ctx.moveTo(px, a.bottom); ctx.lineTo(px, a.bottom - len); ctx.stroke();
      }
      ctx.lineWidth = 1.2;
      ctx.strokeRect(a.left, a.top, a.right - a.left, a.bottom - a.top);
      ctx.restore();
    },
    afterDraw(chart: any) {
      const { ctx, chartArea: a } = chart;
      const ys = chart.scales.y;
      cfg.yLabels.forEach((e) => {
        const py = ys.getPixelForValue(Math.pow(10, e));
        drawRich(ctx, [S('10'), SUP(String(e))], a.left - 5, py + 1, 11, 'right');
      });
      drawRich(ctx, X_TITLE, (a.left + a.right) / 2, a.bottom + cfg.xTitleDy, 13, 'center');
      ctx.save();
      ctx.translate(a.left + cfg.yTitle.x, a.top + cfg.yTitle.y);
      ctx.rotate(-Math.PI / 2);
      drawRich(ctx, Y_TITLE, 0, 0, 16.5, 'center');
      ctx.restore();
      const L = a.left, T = a.top;
      drawRich(ctx, [S(cfg.tag.text)], L + cfg.tag.x, T + cfg.tag.y, 11, 'center');
      drawRich(ctx, TITLE_SEGS, L + cfg.title.x, T + cfg.title.y, 10, 'left');
      cfg.heads.forEach((h) => drawRich(ctx, h.segs, L + h.x, T + h.y, 10, 'left'));
      [cfg.left, cfg.right].forEach((col) => {
        col.rows.forEach((r) => {
          if (r.kind) drawMarker(ctx, r.kind, L + (r.sx ?? col.sx), T + r.y, 1.18);
          drawRich(ctx, r.segs, L + (r.tx ?? col.tx), T + r.y, 10, 'left');
        });
      });
      FIT_STYLES.forEach((st, i) => {
        const y = Math.round(T + cfg.fitRows[i]) + 0.5;
        ctx.save();
        ctx.strokeStyle = st.color; ctx.lineWidth = st.width; ctx.setLineDash(st.dash);
        ctx.beginPath(); ctx.moveTo(L + cfg.fitX0, y); ctx.lineTo(L + cfg.fitX1, y); ctx.stroke();
        ctx.restore();
        drawRich(ctx, [S(st.name)], L + cfg.fitTx, T + cfg.fitRows[i], 9.5, 'left');
      });
    },
  };
}

function Panel({ cfg }: { cfg: PanelCfg }) {
  const ref = useRef<HTMLCanvasElement | null>(null);
  useEffect(() => {
    if (!ref.current) return;
    const stars = { f: makeStarImage(true), o: makeStarImage(false) };
    const YW = 40, XH = 20;
    const c = cfg.canvas, ar = cfg.area;
    const padding = {
      left: ar.l - c.left - YW,
      right: c.left + c.w - ar.r,
      top: ar.t - c.top,
      bottom: c.top + c.h - ar.b - XH,
    };
    const chart = new Chart(ref.current, {
      type: 'line',
      data: { datasets: buildDatasets(cfg, stars) },
      options: {
        animation: false,
        responsive: false,
        maintainAspectRatio: false,
        events: [],
        layout: { padding },
        plugins: { legend: { display: false }, tooltip: { enabled: false } },
        scales: {
          x: {
            type: 'linear', min: 0, max: 12,
            grid: { display: false, drawTicks: false },
            border: { display: false },
            ticks: { color: '#000', font: { family: FONT, size: 11 }, padding: 5, maxRotation: 0, autoSkip: false, callback: (v: any) => String(v) },
            afterBuildTicks: (s: any) => { s.ticks = xTickVals.map((v) => ({ value: v })); },
            afterFit: (s: any) => { s.height = XH; },
          },
          y: {
            type: 'logarithmic', min: cfg.yMin, max: cfg.yMax,
            grid: { display: false, drawTicks: false },
            border: { display: false },
            ticks: { display: false },
            afterBuildTicks: (s: any) => { s.ticks = cfg.yLabels.map((e) => ({ value: Math.pow(10, e) })); },
            afterFit: (s: any) => { s.width = YW; },
          },
        },
      } as any,
      plugins: [decorPlugin(cfg)],
    });
    return () => chart.destroy();
  }, [cfg]);
  const c = cfg.canvas;
  return (
    <canvas
      ref={ref}
      width={c.w}
      height={c.h}
      style={{ position: 'absolute', left: c.left, top: c.top, width: c.w, height: c.h }}
    />
  );
}

export default function App() {
  return (
    <div style={{ position: 'absolute', left: 0, top: 0, width: 872, height: 1128, background: '#fff', overflow: 'hidden' }}>
      {panels.map((p) => (
        <Panel key={p.id} cfg={p} />
      ))}
    </div>
  );
}
